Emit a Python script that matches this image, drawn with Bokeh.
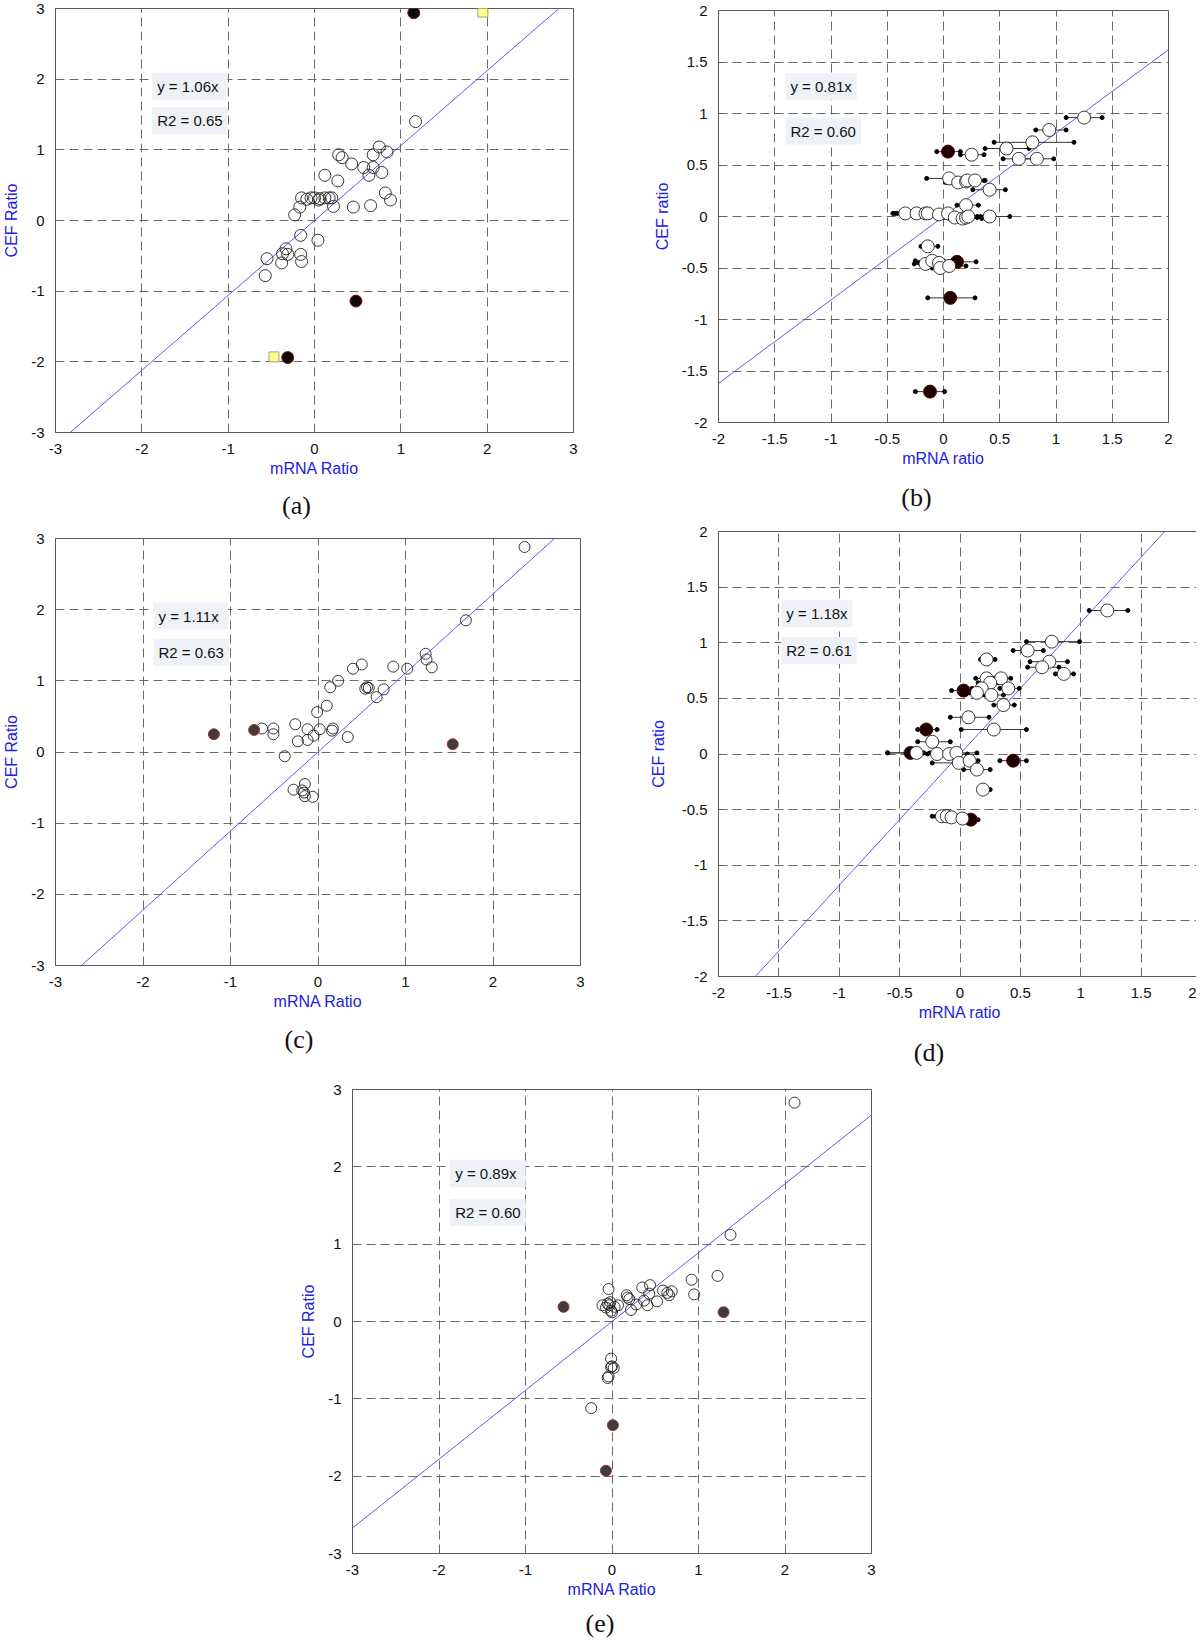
from bokeh.plotting import figure
from bokeh.models import Range1d, FixedTicker, Label, Title
from bokeh.layouts import column, row
from bokeh.embed import file_html
from bokeh.resources import INLINE

# ---------------- tick values / labels ----------------
ticks_3 = [-3, -2, -1, 0, 1, 2, 3]
tick_labels_3 = ["-3", "-2", "-1", "0", "1", "2", "3"]
ticks_2 = [-2, -1.5, -1, -0.5, 0, 0.5, 1, 1.5, 2]
tick_labels_2 = ["-2", "-1.5", "-1", "-0.5", "0", "0.5", "1", "1.5", "2"]

# ---------------- panel (a) ----------------
a_open_x = [1.17, 0.75, 0.84, 0.68, 0.28, 0.32, 0.43, 0.57, 0.68, 0.78, 0.63, 0.12, 0.27, 0.82,
            0.88, 0.45, 0.65, 0.22, -0.15, -0.09, -0.04, 0.00, 0.06, 0.12, 0.17, 0.20, 0.05,
            -0.17, -0.23, -0.16, 0.04, -0.33, -0.37, -0.31, -0.55, -0.16, -0.38, -0.15, -0.57]
a_open_y = [1.40, 1.04, 0.97, 0.93, 0.93, 0.89, 0.80, 0.75, 0.75, 0.68, 0.64, 0.64, 0.56, 0.39,
            0.29, 0.19, 0.21, 0.20, 0.32, 0.30, 0.32, 0.32, 0.31, 0.32, 0.32, 0.32, 0.29,
            0.19, 0.08, -0.21, -0.28, -0.40, -0.47, -0.48, -0.54, -0.48, -0.60, -0.58, -0.78]
a_fill_x = [1.15, 0.48, -0.31]
a_fill_y = [2.94, -1.14, -1.94]
a_sq_x = [1.95, -0.47]
a_sq_y = [2.95, -1.93]
a_slope = 1.06
a_texts = ["y  = 1.06x", "R2 = 0.65"]

# ---------------- panel (b) ----------------
b_x = [1.25, 0.94, 0.79, 0.56, 0.25, 0.67, 0.83, 0.05, 0.13, 0.20, 0.21, 0.28, 0.41, 0.20,
       -0.34, -0.24, -0.16, -0.14, -0.04, 0.04, 0.10, 0.17, 0.20, 0.22, 0.41,
       -0.14, -0.16, -0.10, -0.04, -0.03, 0.05]
b_y = [0.96, 0.84, 0.72, 0.66, 0.60, 0.56, 0.56, 0.37, 0.33, 0.34, 0.35, 0.35, 0.26, 0.11,
       0.03, 0.03, 0.03, 0.03, 0.02, 0.03, -0.01, -0.02, -0.01, 0.00, 0.00,
       -0.29, -0.46, -0.43, -0.45, -0.50, -0.48]
b_lo = [1.09, 0.82, 0.45, 0.37, 0.15, 0.53, 0.68, -0.15, 0.02, 0.12, 0.15, 0.22, 0.26, 0.12,
        -0.45, -0.43, -0.41, -0.30, -0.20, -0.10, 0.00, 0.05, 0.10, 0.12, 0.30,
        -0.20, -0.26, -0.25, -0.22, -0.10, -0.10]
b_hi = [1.41, 1.09, 1.16, 0.76, 0.36, 0.80, 0.98, 0.20, 0.25, 0.30, 0.36, 0.37, 0.55, 0.31,
        -0.25, -0.10, -0.05, 0.00, 0.10, 0.20, 0.30, 0.34, 0.36, 0.33, 0.59,
        -0.05, -0.05, 0.00, 0.10, 0.05, 0.20]
bf_x = [0.04, 0.12, 0.06, -0.12]
bf_y = [0.63, -0.44, -0.79, -1.70]
bf_lo = [-0.06, -0.05, -0.14, -0.25]
bf_hi = [0.15, 0.29, 0.28, 0.01]
b_slope = 0.81
b_texts = ["y = 0.81x", "R2 = 0.60"]

# ---------------- panel (c) ----------------
c_open_x = [2.36, 1.69, 1.23, 1.24, 1.30, 1.02, 0.86, 0.50, 0.40, 0.23, 0.14, 0.56, 0.58, 0.54,
            0.75, 0.67, 0.10, -0.01, -0.26, 0.02, 0.17, 0.16, -0.12, -0.05, -0.12, -0.23, 0.34,
            -0.51, -0.51, -0.64, -0.38, -0.15, -0.28, -0.18, -0.16, -0.15, -0.06]
c_open_y = [2.88, 1.85, 1.38, 1.30, 1.19, 1.17, 1.20, 1.23, 1.17, 1.00, 0.91, 0.91, 0.90, 0.89,
            0.88, 0.77, 0.65, 0.56, 0.39, 0.32, 0.33, 0.30, 0.32, 0.23, 0.17, 0.15, 0.21,
            0.33, 0.25, 0.33, -0.06, -0.45, -0.53, -0.54, -0.57, -0.62, -0.63]
c_fill_x = [-1.19, -0.73, 1.54]
c_fill_y = [0.25, 0.31, 0.11]
c_slope = 1.11
c_texts = ["y  = 1.11x", "R2 = 0.63"]

# ---------------- panel (d) ----------------
d_x = [1.22, 0.76, 0.56, 0.22, 0.74, 0.68, 0.86, 0.22, 0.34, 0.25, 0.18, 0.14, 0.26, 0.40, 0.36,
       0.07, 0.28, -0.23, -0.36, -0.19, -0.09, -0.03, -0.01, 0.08, 0.14, 0.19,
       -0.15, -0.11, -0.07, 0.02]
d_y = [1.29, 1.01, 0.93, 0.85, 0.83, 0.78, 0.72, 0.68, 0.68, 0.64, 0.59, 0.55, 0.53, 0.59, 0.44,
       0.33, 0.22, 0.11, 0.01, 0.00, 0.00, 0.01, -0.08, -0.06, -0.14, -0.32,
       -0.56, -0.56, -0.57, -0.58]
d_lo = [1.07, 0.55, 0.44, 0.17, 0.58, 0.56, 0.79, 0.13, 0.26, 0.15, 0.10, 0.08, 0.20, 0.33, 0.28,
        -0.08, 0.01, -0.35, -0.60, -0.27, -0.15, -0.10, -0.23, 0.00, 0.03, 0.17,
        -0.23, -0.20, -0.15, -0.05]
d_hi = [1.39, 0.99, 0.69, 0.29, 0.89, 0.82, 0.94, 0.28, 0.42, 0.32, 0.26, 0.20, 0.36, 0.49, 0.45,
        0.24, 0.55, -0.08, -0.25, -0.10, 0.06, 0.14, 0.13, 0.15, 0.25, 0.25,
        -0.08, -0.02, 0.00, 0.10]
df_x = [0.03, -0.28, -0.41, 0.44, 0.09]
df_y = [0.57, 0.22, 0.01, -0.06, -0.59]
df_lo = [-0.07, -0.35, -0.60, 0.33, 0.05]
df_hi = [0.12, -0.19, -0.30, 0.55, 0.15]
d_slope = 1.18
d_texts = ["y = 1.18x", "R2 = 0.61"]

# ---------------- panel (e) ----------------
e_open_x = [2.11, 1.37, 1.22, 0.92, 0.95, -0.04, -0.11, -0.07, -0.03, -0.01, -0.05, 0.03, 0.07,
            0.00, -0.02, 0.17, 0.18, 0.20, 0.22, 0.28, 0.35, 0.44, 0.43, 0.41, 0.37, 0.52, 0.59,
            0.66, 0.69, 0.64, -0.01, 0.00, 0.02, -0.01, -0.04, -0.05, -0.24]
e_open_y = [2.83, 1.12, 0.59, 0.54, 0.35, 0.42, 0.21, 0.18, 0.21, 0.14, 0.23, 0.19, 0.21,
            0.12, 0.25, 0.34, 0.31, 0.29, 0.15, 0.22, 0.44, 0.47, 0.36, 0.21, 0.27, 0.26, 0.40,
            0.34, 0.39, 0.37, -0.48, -0.58, -0.60, -0.59, -0.71, -0.73, -1.12]
e_fill_x = [-0.56, 1.29, 0.01, -0.07]
e_fill_y = [0.19, 0.12, -1.34, -1.93]
e_slope = 0.89
e_texts = ["y  = 0.89x", "R2 = 0.60"]

AXIS_BLUE = "#2121e0"
LINE_BLUE = "#5f5fdc"
BOX_FILL = "#eef1f5"
CAP_SIZE = 26
# approximate advance widths (em) of the serif caption glyphs
CAP_EM = {"(": 0.333, ")": 0.333, "a": 0.444, "b": 0.5, "c": 0.444, "d": 0.5, "e": 0.444}


def panel(rng, ticks, labels, fw, fh, mb, xlab, ylab, cap, cap_shift, cap_standoff,
          yl_standoff, xl_standoff):
    cap_w = sum(CAP_EM[ch] for ch in cap) * CAP_SIZE
    t = Title(text=cap, align="left", offset=fw / 2 + cap_shift - cap_w / 2,
              standoff=cap_standoff, text_font="Liberation Serif",
              text_font_size=f"{CAP_SIZE}px", text_font_style="normal", text_color="#111111")
    p = figure(x_range=Range1d(-rng, rng), y_range=Range1d(-rng, rng),
               frame_width=fw, frame_height=fh,
               min_border_left=mb[0], min_border_right=mb[1],
               min_border_top=mb[2], min_border_bottom=mb[3],
               output_backend="svg", toolbar_location=None,
               title=t, title_location="below")
    p.background_fill_color = "white"
    p.border_fill_color = "white"
    p.outline_line_color = "#5a5a5a"
    p.outline_line_width = 1
    overrides = {tk: lb for tk, lb in zip(ticks, labels)}
    for ax in (p.xaxis[0], p.yaxis[0]):
        ax.ticker = FixedTicker(ticks=ticks)
        ax.major_label_overrides = overrides
        ax.axis_line_color = "#5a5a5a"
        ax.major_tick_line_color = None
        ax.minor_tick_line_color = None
        ax.major_label_text_font = "Liberation Sans"
        ax.major_label_text_font_size = "15px"
        ax.major_label_text_color = "#111111"
        ax.major_label_standoff = 5
        ax.axis_label_text_font = "Liberation Sans"
        ax.axis_label_text_font_size = "16px"
        ax.axis_label_text_font_style = "normal"
        ax.axis_label_text_color = AXIS_BLUE
    p.xaxis.axis_label = xlab
    p.yaxis.axis_label = ylab
    p.xaxis.axis_label_standoff = xl_standoff
    p.yaxis.axis_label_standoff = yl_standoff
    for g in (p.xgrid[0], p.ygrid[0]):
        g.ticker = FixedTicker(ticks=ticks)
        g.grid_line_color = "#6a6a6a"
        g.grid_line_dash = "9 5"
        g.grid_line_width = 1
    return p


def add_line(p, rng, slope):
    xs = [-rng, rng]
    p.line(xs, [slope * v for v in xs], line_color=LINE_BLUE, line_width=1)


def add_texts(p, texts, x, ys):
    for txt, yv in zip(texts, ys):
        p.add_layout(Label(x=x, y=yv, text=txt, text_baseline="middle", text_align="left",
                           text_font="Liberation Sans", text_font_size="15px",
                           text_color="#111111", background_fill_color=BOX_FILL,
                           background_fill_alpha=1.0, padding=5))


def add_errbars(p, xs, ys, lo, hi):
    p.segment(x0=lo, y0=ys, x1=hi, y1=ys, line_color="#333333", line_width=1)
    p.scatter(lo, ys, size=4, fill_color="black", line_color="black")
    p.scatter(hi, ys, size=4, fill_color="black", line_color="black")


# ---------------- build (a) ----------------
pa = panel(3, ticks_3, tick_labels_3, 518, 424, (53, 21, 8, 92), "mRNA Ratio", "CEF Ratio",
           "(a)", -18, 18, 8, 3)
add_line(pa, 3, a_slope)
pa.scatter(a_open_x, a_open_y, size=12, fill_color=None, line_color="#222222", line_width=0.9)
pa.scatter(a_fill_x, a_fill_y, size=12, fill_color="#0a0a0a", line_color="#8b1010", line_width=1)
pa.scatter(a_sq_x, a_sq_y, marker="square", size=10, fill_color="#ffff8a", line_color="#8a8a70",
           line_width=0.8)
add_texts(pa, a_texts, -1.88, [1.90, 1.41])

# ---------------- build (b) ----------------
pb = panel(2, ticks_2, tick_labels_2, 450, 412, (120, 28, 10, 97), "mRNA ratio", "CEF ratio",
           "(b)", -27, 23, 8, 3)
add_line(pb, 2, b_slope)
add_errbars(pb, bf_x, bf_y, bf_lo, bf_hi)
add_errbars(pb, b_x, b_y, b_lo, b_hi)
pb.scatter(bf_x, bf_y, size=13, fill_color="#1c0000", line_color="#5a0000", line_width=1)
pb.scatter(b_x, b_y, size=13, fill_color="white", line_color="#222222", line_width=0.9)
add_texts(pb, b_texts, -1.405, [1.26, 0.83])

# ---------------- build (c) ----------------
pc = panel(3, ticks_3, tick_labels_3, 525, 427, (49, 18, 10, 107), "mRNA Ratio", "CEF Ratio",
           "(c)", -19, 21, 8, 3)
add_line(pc, 3, c_slope)
pc.scatter(c_open_x, c_open_y, size=11, fill_color=None, line_color="#222222", line_width=0.9)
pc.scatter(c_fill_x, c_fill_y, size=11, fill_color="#3c3c3c", line_color="#b03030", line_width=1)
add_texts(pc, c_texts, -1.88, [1.91, 1.40])

# ---------------- build (d) ----------------
pd_ = panel(2, ticks_2, tick_labels_2, 483, 445, (105, 10, 8, 97), "mRNA ratio", "CEF ratio",
            "(d)", -31, 24, 12, 3)
add_line(pd_, 2, d_slope)
add_errbars(pd_, df_x, df_y, df_lo, df_hi)
add_errbars(pd_, d_x, d_y, d_lo, d_hi)
pd_.scatter(df_x, df_y, size=13, fill_color="#1c0000", line_color="#5a0000", line_width=1)
pd_.scatter(d_x, d_y, size=13, fill_color="white", line_color="#222222", line_width=0.9)
add_texts(pd_, d_texts, -1.48, [1.26, 0.93])

# ---------------- build (e) ----------------
pe = panel(3, ticks_3, tick_labels_3, 519, 464, (352, 10, 11, 85), "mRNA Ratio", "CEF Ratio",
           "(e)", -12, 12, 8, 3)
add_line(pe, 3, e_slope)
pe.scatter(e_open_x, e_open_y, size=11, fill_color=None, line_color="#222222", line_width=0.9)
pe.scatter(e_fill_x, e_fill_y, size=11, fill_color="#3c3c3c", line_color="#b03030", line_width=1)
add_texts(pe, e_texts, -1.87, [1.91, 1.41])

layout = column(row(column(pa, pc), column(pb, pd_)), pe)
open("out.html", "w").write(file_html(layout, INLINE))
